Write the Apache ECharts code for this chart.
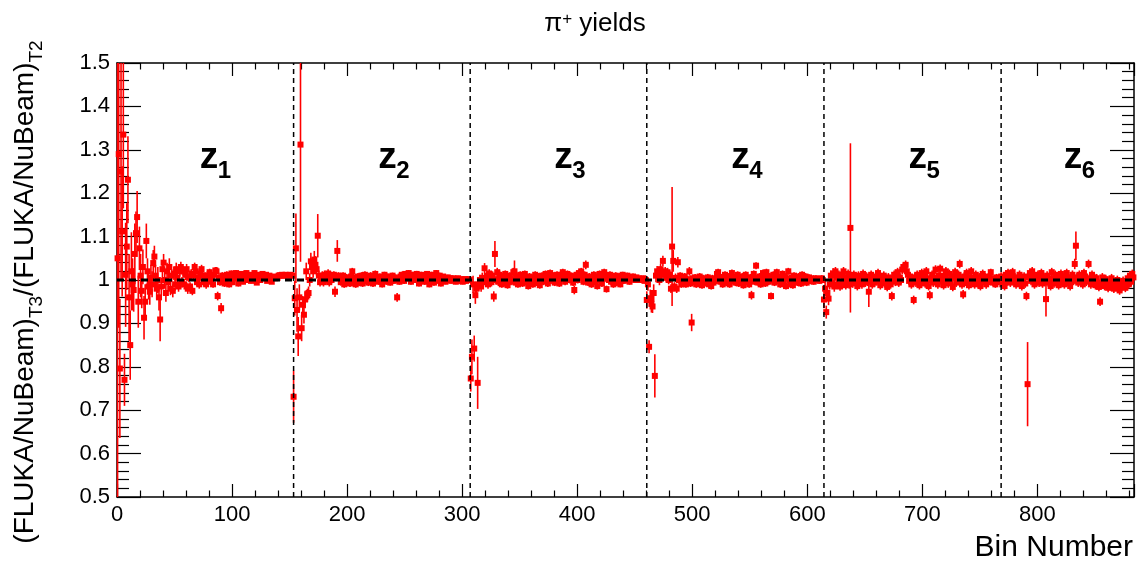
<!DOCTYPE html>
<html><head><meta charset="utf-8">
<script src="https://cdn.jsdelivr.net/npm/echarts@6/dist/echarts.min.js"></script>
<style>html,body{margin:0;padding:0;background:#fff}#c{width:1139px;height:564px}</style>
</head><body><div id="c"></div>
<script>
// ---------------- data ----------------
const xMin = 0, xMax = 884;
const yMin = 0.5, yMax = 1.5;
const zoneStarts = [0, 153, 307, 460, 614, 768];
const zoneBounds = [153.5, 307, 460.5, 614.5, 768.5];
const zoneNames = ['1', '2', '3', '4', '5', '6'];
const zoneLabelBins = [72, 227, 380, 534, 688, 823];
const zoneLabelY = 1.282;

const seg1Vals = [1.05,1.29,0.796,1.25,1.112,1.335,0.77,1.012,1.077,1.231,
 0.96,0.85,1.02,0.99,0.977,1.06,1.108,1.145,0.95,1.073,
 1.01,0.975,1.03,0.913,0.95,1.09,1.02,0.985,0.973,1.005,
 0.99,1.039,1.054,1.01,0.98,1.0,0.96,0.909,0.985,1.025,
 1.04,1.0,0.97,1.02,0.995,1.03,0.98,1.01,0.975,1.015,
 0.99,1.025,1.005,0.985,1.02,1.03,0.995,1.02,0.99,1.012,
 1.025,0.98,1.005,0.985,1.015,0.975,1.01,1.03,1.02,0.995,
 1.005,0.99,1.015,1.025,1.01,0.995,1.008,0.99,1.01,1.0,
 1.018,0.996,1.005,0.99,1.012,1.022,1.02,0.963,1.005,0.995,
 0.935,1.01,1.006,0.992,1.0,1.012,1.005,0.99,1.008,1.015,
 0.995,1.01,1.004,1.016,1.008,0.992,1.012,1.002,1.014,0.996,
 1.01,1.006,1.016,1.0,1.008,1.012,0.998,1.004,1.01,1.016,
 1.006,0.994,1.012,1.008,1.0,1.01,1.014,1.004,1.008,1.012,
 0.998,1.006,1.01,1.004,0.996,1.006,1.008,1.004,1.006,1.005,
 1.01,1.011,1.01,1.012,1.01,1.011,1.012,1.01,1.011,1.01,
 1.012,1.011,1.01];
const seg1Errs = [0.55,0.40,0.16,0.25,0.15,0.17,0.06,0.12,0.10,0.10,
 0.10,0.08,0.09,0.06,0.05,0.07,0.05,0.06,0.06,0.05,
 0.05,0.04,0.04,0.05,0.04,0.04,0.03,0.03,0.03,0.03,
 0.03,0.03,0.025,0.025,0.025,0.03,0.03,0.05,0.02,0.02,
 0.02,0.02,0.02,0.02,0.02,0.02,0.015,0.015,0.015,0.015,
 0.015,0.015,0.015,0.012,0.012,0.012,0.012,0.012,0.012,0.012,
 0.012,0.012,0.01,0.01,0.01,0.01,0.01,0.01,0.01,0.01,
 0.01,0.01,0.01,0.01,0.01,0.01,0.01,0.01,0.01,0.008,
 0.008,0.008,0.008,0.008,0.008,0.008,0.01,0.01,0.008,0.008,
 0.012,0.008,0.008,0.008,0.008,0.008,0.007,0.007,0.007,0.007,
 0.007,0.007,0.007,0.007,0.007,0.007,0.006,0.006,0.006,0.006,
 0.006,0.006,0.006,0.006,0.006,0.006,0.006,0.006,0.006,0.006,
 0.005,0.005,0.005,0.005,0.005,0.005,0.005,0.005,0.005,0.005,
 0.005,0.005,0.005,0.005,0.005,0.004,0.004,0.004,0.004,0.004,
 0.004,0.004,0.004,0.004,0.004,0.004,0.004,0.004,0.004,0.004,
 0.004,0.004,0.004];

const seg2Vals = [0.731,0.958,1.073,0.931,0.87,0.96,1.312,0.889,0.943,0.92,
 0.955,1.02,0.965,0.97,1.0,1.043,1.03,1.02,1.047,1.035,
 1.025,1.102,1.01,0.995,1.005,1.01,0.995,1.012,1.0,1.008,
 1.015,0.995,1.01,1.0,1.006,1.012,0.973,1.005,1.067,1.01,
 1.008,0.995,1.004,1.01,0.99,1.0,1.006,0.998,1.004,0.992,
 1.008,1.02,1.006,0.996,0.99,1.002,1.008,0.994,1.004,1.01,
 0.992,1.002,1.012,0.998,1.006,0.994,1.004,1.01,1.0,0.992,
 1.006,1.014,0.998,1.004,0.996,1.008,1.0,0.99,1.006,1.012,
 1.002,0.996,1.008,1.004,0.994,1.002,1.01,0.998,1.006,1.0,
 0.96,1.004,0.996,1.008,1.012,1.006,0.998,1.014,1.01,1.004,
 1.016,1.008,0.996,1.012,1.006,1.01,1.0,1.014,1.008,0.992,
 1.006,1.012,1.004,1.01,0.996,1.008,1.014,1.002,0.99,1.006,
 1.012,1.004,0.994,1.008,1.016,1.006,0.998,1.01,0.992,1.004,
 1.008,1.002,0.996,1.004,1.006,1.0,1.004,0.998,1.002,1.004,
 1.0,0.996,1.002,1.004,0.998,1.0,1.002,0.996,1.0,1.002,
 0.998,1.0,1.002,1.0];
const seg2Errs = [0.06,0.04,0.08,0.05,0.045,0.03,0.27,0.03,0.02,0.02,
 0.02,0.02,0.015,0.015,0.015,0.02,0.015,0.015,0.02,0.02,
 0.015,0.05,0.012,0.01,0.01,0.01,0.01,0.01,0.01,0.01,
 0.01,0.01,0.01,0.008,0.008,0.008,0.012,0.008,0.025,0.008,
 0.008,0.008,0.008,0.008,0.008,0.008,0.008,0.008,0.008,0.008,
 0.008,0.008,0.008,0.008,0.008,0.008,0.008,0.008,0.008,0.008,
 0.008,0.008,0.008,0.008,0.008,0.008,0.008,0.008,0.008,0.008,
 0.008,0.008,0.007,0.007,0.007,0.007,0.007,0.007,0.007,0.007,
 0.007,0.007,0.007,0.007,0.007,0.007,0.007,0.007,0.007,0.007,
 0.01,0.007,0.007,0.007,0.007,0.007,0.007,0.007,0.007,0.007,
 0.007,0.007,0.007,0.007,0.007,0.007,0.007,0.007,0.007,0.007,
 0.007,0.007,0.007,0.007,0.007,0.007,0.007,0.007,0.007,0.007,
 0.007,0.007,0.007,0.007,0.007,0.007,0.007,0.007,0.007,0.007,
 0.006,0.006,0.006,0.006,0.006,0.006,0.006,0.006,0.006,0.006,
 0.006,0.006,0.006,0.006,0.006,0.006,0.006,0.006,0.006,0.006,
 0.006,0.006,0.006,0.006];

const seg3Vals = [0.773,0.823,0.99,0.842,0.965,0.98,0.763,0.99,1.0,0.985,
 1.005,0.995,1.027,1.0,1.01,0.99,1.015,1.005,0.995,1.01,
 0.962,1.06,1.0,1.018,0.996,1.012,1.004,0.99,1.008,0.994,
 1.014,1.0,0.988,1.006,1.01,0.996,1.002,1.018,1.02,0.994,
 1.008,0.99,1.004,1.012,1.0,0.992,1.006,1.014,0.996,1.002,
 0.986,1.008,0.998,1.004,0.99,1.006,1.012,0.994,1.0,1.008,
 0.988,1.004,1.01,0.996,1.002,1.014,1.006,0.992,1.004,1.016,
 1.008,0.998,1.01,0.994,1.004,1.012,1.0,0.992,1.006,1.012,
 1.018,1.004,0.996,1.008,1.014,1.006,1.0,1.01,1.004,0.994,
 0.977,1.008,1.012,1.0,1.016,1.006,1.02,1.008,0.996,1.012,
 1.035,1.004,0.994,1.008,1.002,0.99,1.006,1.012,0.996,1.004,
 0.986,1.008,1.014,1.0,0.992,1.006,1.018,1.004,0.979,1.008,
 1.0,1.012,0.996,1.006,0.99,1.004,1.01,0.994,1.002,1.008,
 0.99,1.004,1.012,0.998,1.006,1.0,1.01,1.004,0.996,1.006,
 1.002,1.008,1.004,1.0,1.006,1.002,1.004,1.0,1.002,1.0,
 1.004,0.998,1.0];
const seg3Errs = [0.03,0.04,0.02,0.03,0.02,0.015,0.06,0.015,0.012,0.012,
 0.012,0.01,0.012,0.01,0.01,0.01,0.01,0.01,0.01,0.01,
 0.012,0.03,0.01,0.01,0.01,0.01,0.008,0.008,0.008,0.008,
 0.008,0.008,0.008,0.008,0.008,0.008,0.008,0.01,0.025,0.008,
 0.008,0.008,0.008,0.008,0.008,0.008,0.008,0.008,0.008,0.008,
 0.008,0.008,0.008,0.008,0.008,0.008,0.008,0.008,0.008,0.008,
 0.008,0.008,0.008,0.008,0.008,0.008,0.008,0.008,0.008,0.008,
 0.008,0.008,0.008,0.008,0.008,0.008,0.008,0.008,0.008,0.008,
 0.008,0.008,0.008,0.008,0.008,0.008,0.008,0.008,0.008,0.008,
 0.01,0.008,0.008,0.008,0.008,0.008,0.008,0.008,0.008,0.008,
 0.01,0.008,0.008,0.008,0.008,0.008,0.008,0.008,0.008,0.008,
 0.008,0.008,0.008,0.008,0.008,0.008,0.008,0.008,0.008,0.008,
 0.008,0.008,0.008,0.008,0.008,0.008,0.008,0.008,0.008,0.008,
 0.007,0.007,0.007,0.007,0.007,0.007,0.007,0.007,0.007,0.007,
 0.007,0.007,0.006,0.006,0.006,0.006,0.006,0.006,0.006,0.006,
 0.006,0.006,0.006];

const seg4Vals = [0.954,0.99,0.846,0.958,0.945,0.939,0.97,0.779,1.01,1.02,
 1.015,1.0,1.025,1.012,1.044,1.015,1.02,1.005,1.018,1.0,
 1.012,0.98,1.077,1.044,0.985,1.005,0.98,1.041,1.0,1.01,
 0.99,1.004,0.994,1.008,0.99,1.002,0.996,1.02,0.992,0.902,
 1.004,0.996,1.006,0.99,1.0,0.994,1.008,0.998,0.988,1.004,
 0.992,1.002,0.996,1.006,0.99,1.0,0.986,1.004,0.994,1.002,
 0.998,1.014,1.018,1.004,0.996,1.006,0.99,1.0,1.012,0.994,
 1.002,1.008,0.99,1.004,1.016,0.998,1.006,0.994,1.002,1.012,
 0.992,1.004,0.998,1.008,0.988,1.0,1.012,0.996,1.004,0.99,
 1.006,0.965,1.002,1.014,0.996,1.033,1.004,0.994,1.008,0.99,
 1.002,1.016,1.004,0.992,1.018,1.006,0.996,1.008,0.963,1.0,
 1.012,0.994,1.004,1.018,0.998,1.006,0.99,1.002,1.014,0.996,
 1.008,0.986,1.004,1.02,1.0,0.99,1.006,0.988,1.01,0.996,
 1.004,0.994,1.008,1.0,0.992,1.012,1.004,0.996,1.008,0.994,
 1.002,1.006,0.998,1.004,1.0,0.996,1.002,1.004,1.0,1.002,
 0.998,1.0,1.004,1.0];
const seg4Errs = [0.02,0.015,0.015,0.02,0.02,0.015,0.02,0.05,0.015,0.012,
 0.012,0.012,0.012,0.012,0.012,0.01,0.01,0.01,0.01,0.01,
 0.01,0.01,0.137,0.025,0.01,0.01,0.01,0.012,0.008,0.008,
 0.008,0.008,0.008,0.008,0.008,0.008,0.008,0.01,0.008,0.02,
 0.008,0.008,0.008,0.008,0.008,0.008,0.008,0.008,0.008,0.008,
 0.008,0.008,0.008,0.008,0.008,0.008,0.008,0.008,0.008,0.008,
 0.008,0.008,0.008,0.008,0.008,0.008,0.008,0.008,0.008,0.008,
 0.008,0.008,0.008,0.008,0.008,0.008,0.008,0.008,0.008,0.008,
 0.008,0.008,0.008,0.008,0.008,0.008,0.008,0.008,0.008,0.008,
 0.008,0.01,0.008,0.008,0.008,0.008,0.008,0.008,0.008,0.008,
 0.008,0.008,0.008,0.008,0.008,0.008,0.008,0.008,0.008,0.008,
 0.008,0.008,0.008,0.008,0.008,0.008,0.008,0.008,0.008,0.008,
 0.008,0.008,0.008,0.008,0.008,0.008,0.008,0.008,0.008,0.008,
 0.008,0.008,0.008,0.008,0.008,0.008,0.008,0.008,0.008,0.008,
 0.008,0.007,0.007,0.007,0.007,0.007,0.007,0.007,0.007,0.007,
 0.007,0.007,0.007,0.007];

const seg5Vals = [0.955,0.98,0.926,0.97,0.957,0.99,1.01,0.995,1.015,0.985,
 1.02,1.005,0.99,1.012,0.985,1.01,0.995,1.02,1.005,0.988,
 1.0,1.014,0.99,1.12,1.008,0.992,1.012,0.996,1.004,0.986,
 1.01,0.998,1.006,0.99,1.014,1.0,0.994,1.008,0.996,0.973,
 1.004,1.012,0.99,1.002,0.994,1.008,0.998,1.016,1.004,0.988,
 1.006,0.996,1.01,0.992,1.002,0.984,1.006,1.0,0.99,0.963,
 1.004,1.012,0.996,1.008,1.018,0.994,1.006,1.0,1.024,1.03,
 1.026,1.035,1.02,1.012,0.998,1.008,0.99,1.002,0.954,1.006,
 0.994,1.012,1.0,0.988,1.004,1.016,0.996,1.008,0.992,1.02,
 1.004,0.986,0.965,1.0,1.012,0.994,1.006,1.024,1.002,0.99,
 1.01,1.026,0.998,1.004,0.988,1.01,1.02,1.0,0.992,1.014,
 0.996,1.006,0.984,1.008,1.018,0.994,1.002,1.012,1.037,1.004,
 0.99,0.967,1.008,0.996,1.016,1.002,0.988,1.006,1.02,0.994,
 1.004,0.99,1.012,1.0,0.992,1.006,0.986,1.002,1.014,0.998,
 1.006,0.99,1.0,1.008,0.996,1.018,1.004,0.994,1.002,0.99,
 1.006,1.0,0.996,1.004];
const seg5Errs = [0.02,0.015,0.015,0.015,0.015,0.012,0.012,0.012,0.012,0.012,
 0.01,0.01,0.01,0.01,0.01,0.01,0.01,0.01,0.01,0.01,
 0.01,0.01,0.01,0.195,0.01,0.01,0.01,0.01,0.01,0.01,
 0.01,0.01,0.01,0.01,0.01,0.01,0.01,0.01,0.01,0.035,
 0.01,0.01,0.01,0.01,0.01,0.01,0.01,0.01,0.01,0.01,
 0.01,0.01,0.01,0.01,0.01,0.01,0.01,0.01,0.01,0.01,
 0.01,0.01,0.01,0.01,0.01,0.01,0.01,0.01,0.01,0.01,
 0.01,0.01,0.01,0.01,0.01,0.01,0.01,0.01,0.01,0.01,
 0.01,0.01,0.01,0.01,0.01,0.01,0.01,0.01,0.01,0.01,
 0.01,0.01,0.01,0.01,0.01,0.01,0.01,0.01,0.01,0.01,
 0.01,0.01,0.01,0.01,0.01,0.01,0.01,0.01,0.01,0.01,
 0.01,0.01,0.01,0.01,0.01,0.01,0.01,0.01,0.01,0.01,
 0.01,0.01,0.01,0.01,0.01,0.01,0.01,0.01,0.01,0.01,
 0.01,0.01,0.01,0.01,0.01,0.01,0.01,0.01,0.01,0.01,
 0.01,0.01,0.008,0.008,0.008,0.008,0.008,0.008,0.008,0.008,
 0.008,0.008,0.008,0.008];

const seg6Vals = [1.008,0.99,1.004,0.986,1.012,0.996,1.016,1.004,0.994,1.01,
 1.018,0.998,1.006,0.99,1.002,0.994,1.012,1.0,0.986,1.004,
 1.008,0.992,0.963,0.76,1.006,1.016,0.998,1.02,1.004,0.99,
 1.008,0.996,1.012,0.994,1.004,1.016,0.992,1.006,0.998,0.956,
 1.01,0.994,1.004,0.986,1.018,1.0,0.992,1.012,0.996,1.006,
 0.988,1.002,1.014,0.994,1.004,0.99,1.008,1.016,0.996,1.002,
 0.986,1.006,1.012,0.998,1.037,1.079,1.006,0.994,1.012,0.998,
 1.004,0.99,1.016,1.008,0.996,1.004,1.037,1.002,0.99,1.012,
 0.996,1.006,0.988,1.004,0.994,0.984,0.95,0.99,1.006,0.996,
 0.986,1.002,0.99,0.982,0.996,0.986,1.004,0.99,0.98,0.994,
 0.984,1.0,0.988,0.976,0.992,0.984,0.998,0.99,0.982,0.996,
 1.004,0.99,1.01,0.996,1.014,1.006];
const seg6Errs = [0.01,0.01,0.01,0.01,0.01,0.01,0.01,0.01,0.01,0.01,
 0.01,0.01,0.01,0.01,0.01,0.01,0.01,0.01,0.01,0.01,
 0.01,0.01,0.01,0.097,0.01,0.01,0.01,0.01,0.01,0.01,
 0.01,0.01,0.01,0.01,0.01,0.01,0.01,0.01,0.01,0.04,
 0.01,0.01,0.01,0.01,0.01,0.01,0.01,0.01,0.01,0.01,
 0.01,0.01,0.01,0.01,0.01,0.01,0.01,0.01,0.01,0.01,
 0.01,0.01,0.01,0.01,0.012,0.033,0.01,0.01,0.01,0.01,
 0.01,0.01,0.01,0.01,0.01,0.01,0.01,0.01,0.01,0.01,
 0.01,0.01,0.01,0.01,0.01,0.01,0.01,0.01,0.01,0.01,
 0.01,0.01,0.01,0.01,0.01,0.01,0.01,0.01,0.01,0.01,
 0.01,0.01,0.01,0.01,0.01,0.01,0.01,0.01,0.01,0.01,
 0.01,0.01,0.01,0.01,0.01,0.01];

// ---------------- chart ----------------
const FONT = '"Liberation Sans", Arial, Helvetica, sans-serif';
const RED = '#ff0000';
const segVals = [seg1Vals, seg2Vals, seg3Vals, seg4Vals, seg5Vals, seg6Vals];
const segErrs = [seg1Errs, seg2Errs, seg3Errs, seg4Errs, seg5Errs, seg6Errs];
const points = [];
segVals.forEach((vals, s) => {
  vals.forEach((v, i) => points.push([zoneStarts[s] + i + 0.5, v, segErrs[s][i]]));
});

function clampY(y, cs) { return Math.max(cs.y, Math.min(cs.y + cs.height, y)); }

function renderPoint(params, api) {
  const x = api.value(0), v = api.value(1), e = api.value(2);
  const cs = params.coordSys;
  const p = api.coord([x, v]);
  const y1 = clampY(api.coord([x, v + e])[1], cs);
  const y2 = clampY(api.coord([x, v - e])[1], cs);
  const children = [{
    type: 'line', shape: { x1: p[0], y1: y1, x2: p[0], y2: y2 },
    style: { stroke: RED, lineWidth: 1.6 }
  }];
  if (p[1] >= cs.y && p[1] <= cs.y + cs.height) {
    children.push({ type: 'rect', shape: { x: p[0] - 3, y: p[1] - 3, width: 6, height: 6 }, style: { fill: RED } });
  }
  return { type: 'group', children: children };
}

function renderBound(params, api) {
  const b = api.value(0);
  const p1 = api.coord([b, yMin]), p2 = api.coord([b, yMax]);
  return { type: 'line', shape: { x1: p1[0], y1: p1[1], x2: p2[0], y2: p2[1] },
    style: { stroke: '#000', lineWidth: 1.5, lineDash: [5, 4] } };
}

function renderUnity(params, api) {
  const p1 = api.coord([xMin, api.value(1)]), p2 = api.coord([xMax, api.value(1)]);
  return { type: 'line', shape: { x1: p1[0], y1: p1[1], x2: p2[0], y2: p2[1] },
    style: { stroke: '#000', lineWidth: 3, lineDash: [7, 5] } };
}

function renderZone(params, api) {
  const p = api.coord([api.value(0), api.value(1)]);
  const name = zoneNames[api.value(2)];
  return { type: 'group', children: [
    { type: 'text', x: p[0], y: p[1], style: { text: 'z', fill: '#000', fontSize: 37, fontWeight: 'bold', fontFamily: FONT, align: 'left', verticalAlign: 'middle' } },
    { type: 'text', x: p[0] + 18, y: p[1] + 14, style: { text: name, fill: '#000', fontSize: 24, fontWeight: 'bold', fontFamily: FONT, align: 'left', verticalAlign: 'middle' } }
  ] };
}

const axisLineStyle = { color: '#000', width: 1.5 };
function xAx(pos, showLabel) {
  return {
    type: 'value', min: xMin, max: xMax, interval: 100, position: pos,
    axisLine: { show: true, onZero: false, lineStyle: axisLineStyle },
    axisTick: { show: true, inside: true, length: 13, lineStyle: { color: '#000', width: 1.2 } },
    minorTick: { show: true, splitNumber: 5, length: 6.5, lineStyle: { color: '#000', width: 1.2 } },
    splitLine: { show: false }, minorSplitLine: { show: false },
    axisLabel: { show: showLabel, color: '#000', fontSize: 22, fontFamily: FONT, margin: 7, showMaxLabel: false }
  };
}
function yAx(pos, showLabel) {
  return {
    type: 'value', min: yMin, max: yMax, interval: 0.1, position: pos,
    axisLine: { show: true, onZero: false, lineStyle: axisLineStyle },
    axisTick: { show: true, inside: true, length: 24, lineStyle: { color: '#000', width: 1.2 } },
    minorTick: { show: true, splitNumber: 5, length: 12, lineStyle: { color: '#000', width: 1.2 } },
    splitLine: { show: false }, minorSplitLine: { show: false },
    axisLabel: { show: showLabel, color: '#000', fontSize: 22, fontFamily: FONT, margin: 7 }
  };
}

const chart = echarts.init(document.getElementById('c'), null, { renderer: 'canvas' });
chart.setOption({
  animation: false,
  backgroundColor: '#fff',
  grid: { left: 117, right: 5, top: 63, bottom: 67, containLabel: false, outerBoundsMode: 'none' },
  xAxis: [xAx('bottom', true), xAx('top', false)],
  yAxis: [yAx('left', true), yAx('right', false)],
  graphic: [
    { type: 'text', x: 595, y: 24, style: {
      text: '{m|π}{s|+}{m| yields}', align: 'center', verticalAlign: 'middle',
      rich: { m: { fontSize: 26, fontFamily: FONT, fill: '#000', verticalAlign: 'bottom' },
              s: { fontSize: 17, fontFamily: FONT, fill: '#000', verticalAlign: 'top' } } } },
    { type: 'text', x: 29, y: 292, rotation: Math.PI / 2, style: {
      text: '{m|(FLUKA/NuBeam)}{s|T3}{m|/(FLUKA/NuBeam)}{s|T2}', align: 'center', verticalAlign: 'middle',
      rich: { m: { fontSize: 28, fontFamily: FONT, fill: '#000', verticalAlign: 'bottom', padding: [0, 0, 7, 0] },
              s: { fontSize: 19, fontFamily: FONT, fill: '#000', verticalAlign: 'bottom' } } } },
    { type: 'text', x: 1133, y: 548, style: { text: 'Bin Number', fontSize: 30, fontFamily: FONT, fill: '#000', align: 'right', verticalAlign: 'middle' } }
  ],
  series: [
    { type: 'custom', name: 'ratio', xAxisIndex: 0, yAxisIndex: 0, renderItem: renderPoint,
      dimensions: ['bin', 'ratio', 'err'], encode: { x: 0, y: 1 }, data: points, z: 2, progressive: 0, silent: true },
    { type: 'custom', name: 'bounds', renderItem: renderBound, data: zoneBounds.map(b => [b, 1]), encode: { x: 0, y: 1 }, z: 3, silent: true },
    { type: 'custom', name: 'unity', renderItem: renderUnity, data: [[xMin, 1]], encode: { x: 0, y: 1 }, z: 4, silent: true },
    { type: 'custom', name: 'zones', renderItem: renderZone, data: zoneLabelBins.map((b, i) => [b, zoneLabelY, i]), encode: { x: 0, y: 1 }, z: 5, silent: true }
  ]
});
</script>
</body></html>
